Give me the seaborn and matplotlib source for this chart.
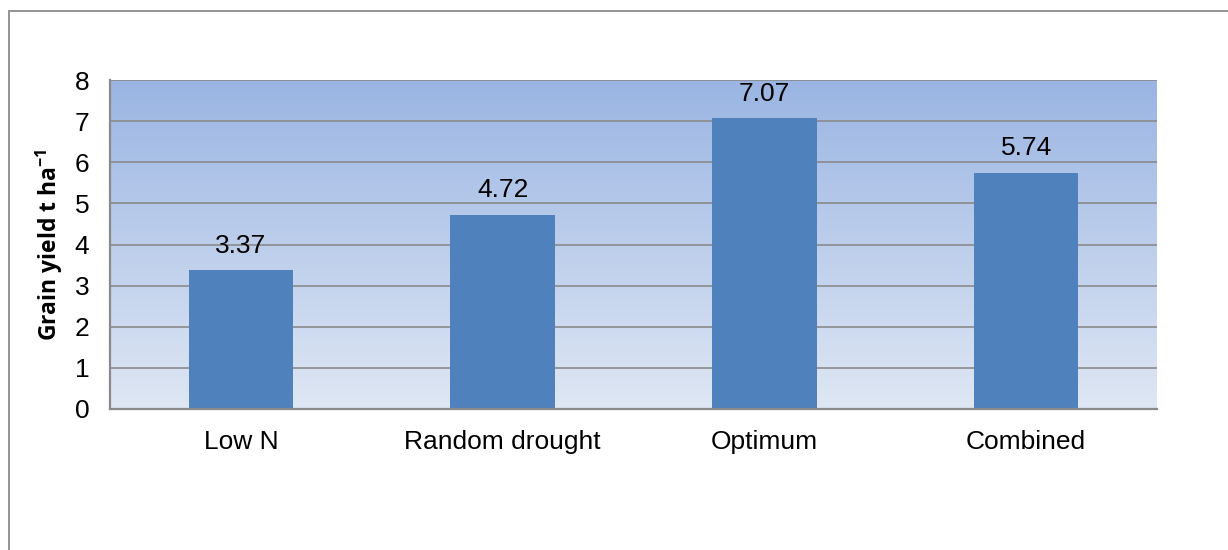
import matplotlib
matplotlib.use("Agg")
import matplotlib.pyplot as plt
from matplotlib.patches import Rectangle
from matplotlib.colors import LinearSegmentedColormap
import numpy as np
import pandas as pd
import seaborn as sns

# Mean grain yield per management condition
conditions = ["Low N", "Random drought", "Optimum", "Combined"]
grain_yield = [3.37, 4.72, 7.07, 5.74]
y_ticks = [0, 1, 2, 3, 4, 5, 6, 7, 8]

sns.set_style("white")
plt.rcParams["font.family"] = ["Liberation Sans", "DejaVu Sans"]
plt.rcParams["mathtext.fontset"] = "custom"
plt.rcParams["mathtext.bf"] = "Open Sans:bold"

df = pd.DataFrame({"condition": conditions, "yield": grain_yield})

fig = plt.figure(figsize=(12.28, 5.5), dpi=100)
ax = fig.add_axes([110 / 1228, 1 - 409 / 550, 1047 / 1228, 329 / 550])

# Chart frame around the whole figure area
fig.patches.append(Rectangle((9 / 1228, -0.1), 1.2, 1 - 11 / 550 + 0.1,
                             transform=fig.transFigure, fill=False,
                             edgecolor="#8a8a8a", linewidth=1.3, zorder=0))

sns.barplot(data=df, x="condition", y="yield", color="#4F81BD", saturation=1,
            width=0.4, linewidth=0, ax=ax, zorder=3)

# Vertical gradient in the plotting area
cmap = LinearSegmentedColormap.from_list("bg", ["#DFE7F4", "#9AB5E3"])
grad = np.linspace(0, 1, 256).reshape(-1, 1)
ax.imshow(grad, aspect="auto", cmap=cmap, origin="lower",
          extent=[-0.5, len(conditions) - 0.5, 0, 8], zorder=0)
ax.set_xlim(-0.5, len(conditions) - 0.5)
ax.set_ylim(0, 8)

ax.set_yticks(y_ticks)
ax.yaxis.grid(True, color="#8a8a8a", linewidth=1.2)
ax.set_axisbelow(False)
for gl in ax.get_ygridlines():
    gl.set_zorder(1)

for side in ["top", "right"]:
    ax.spines[side].set_visible(False)
for side in ["left", "bottom"]:
    ax.spines[side].set_color("#8a8a8a")
    ax.spines[side].set_linewidth(1.6)
    ax.spines[side].set_zorder(4)

ax.tick_params(axis="both", length=0, labelsize=19, colors="black")
ax.tick_params(axis="y", pad=15)
ax.tick_params(axis="x", pad=15)
ax.set_xlabel("")
ax.set_ylabel("Grain yield t ha$^{\\mathbf{-1}}$", fontsize=16.5, fontweight="bold",
              family=["Open Sans", "DejaVu Sans"], color="black")
ax.yaxis.set_label_coords(-0.043, 0.5)

for i, v in enumerate(grain_yield):
    ax.annotate(f"{v:.2f}", (i, v), xytext=(0, 9), textcoords="offset points",
                ha="center", va="bottom", fontsize=19, color="black", zorder=5)

fig.savefig("out.png", dpi=100)
